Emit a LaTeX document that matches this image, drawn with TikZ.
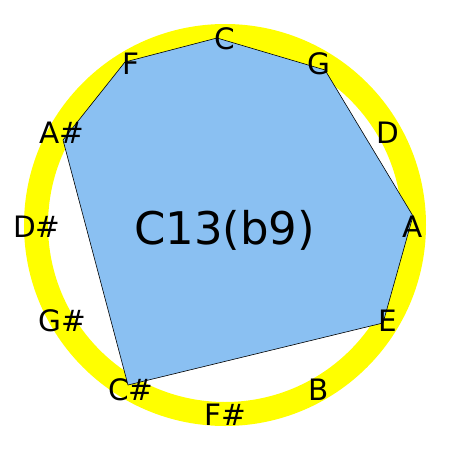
\documentclass[tikz,border=0pt]{standalone}
\usepackage{fontspec}
\setmainfont{DejaVu Sans}
\definecolor{polyblue}{RGB}{138,192,242}
\definecolor{ringyellow}{RGB}{255,255,0}
\begin{document}
\begin{tikzpicture}[x=1pt,y=-1pt,
  note/.style={font=\fontsize{29.5}{29.5}\selectfont, inner sep=0pt, text height=21.5pt, text depth=0pt, anchor=center},
  chord/.style={font=\fontsize{45}{45}\selectfont, inner sep=0pt, text height=33pt, text depth=0pt, anchor=center},
  ring/.style={draw=ringyellow, line width=24pt},
  poly/.style={fill=polyblue, draw=black, line width=0.6pt, line join=miter}]
\useasboundingbox (0,0) rectangle (450,450);
\coordinate (O) at (225,225);
\draw[ring] (O) circle[radius=189];
% polygon vertices
\coordinate (vC) at (217,38);
\coordinate (vG) at (325,70);
\coordinate (vA) at (413,216);
\coordinate (vE) at (383,323);
\coordinate (vCs) at (128,385);
\coordinate (vAs) at (63,140);
\coordinate (vF) at (125,62);
\filldraw[poly] (vC) -- (vG) -- (vA) -- (vE) -- (vCs) -- (vAs) -- (vF) -- cycle;
% labels
\foreach \n/\a/\t in {C/90/C, G/60/G, D/30/D, A/0/A, E/-30/E, B/-60/B, Fs/-90/F\#, Cs/-120/C\#, Gs/-150/G\#, Ds/180/D\#, As/150/A\#, F/120/F}{
  \node[note] (l\n) at ({225+188*cos(\a)},{227-188*sin(\a)}) {\t};
}
\node[chord] (chordname) at (224.5,227.5) {C13(b9)};
\end{tikzpicture}
\end{document}
